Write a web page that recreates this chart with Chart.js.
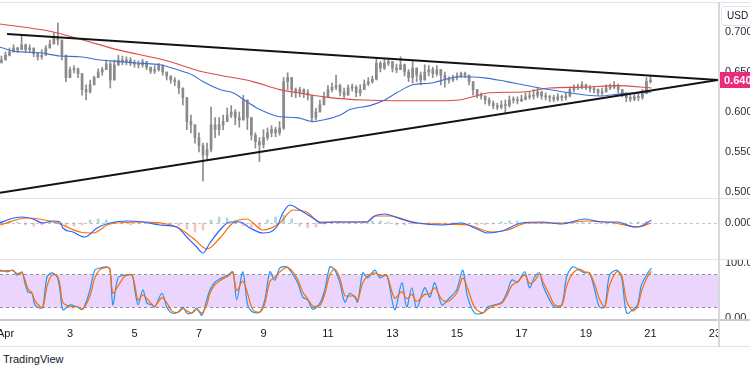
<!DOCTYPE html>
<html>
<head>
<meta charset="utf-8">
<script src="https://cdn.jsdelivr.net/npm/chart.js@4.4.0/dist/chart.umd.min.js"></script>
<style>
  body { margin: 0; background: #fff; width: 750px; height: 375px; overflow: hidden; position: relative; }
  canvas { position: absolute; left: 0; }
  .ln { position: absolute; background: #e0e3eb; z-index: 2; }
  #brand { position: absolute; left: 3px; top: 353px; font: 11px "Liberation Sans", sans-serif; color: #131722; }
</style>
</head>
<body>
<canvas id="price" width="750" height="198" style="top:0"></canvas>
<canvas id="macd" width="750" height="61" style="top:198px"></canvas>
<canvas id="stoch" width="750" height="87" style="top:259px"></canvas>

<div class="ln" style="left:0;top:2px;width:750px;height:1px"></div>
<div class="ln" style="left:0;top:198px;width:750px;height:1px"></div>
<div class="ln" style="left:0;top:259px;width:750px;height:1px"></div>
<div class="ln" style="left:0;top:319px;width:750px;height:2px;background:#c8cad0"></div>
<div class="ln" style="left:0;top:346px;width:750px;height:1px"></div>
<div class="ln" style="left:718px;top:2px;width:2px;height:345px;background:#d6d8dd"></div>
<div id="brand">TradingView</div>

<script>
// time axis in days of April, 3-hour candles
const dayMin = 0.83;
const dayMax = 23.094;
const candleStart = 0.875;
const candleStep = 0.125;
const firstOpen = 0.662;

const closes = [0.665,0.671,0.675,0.680,0.678,0.684,0.678,0.680,0.673,0.669,
  0.671,0.680,0.685,0.693,0.690,0.671,0.643,0.653,0.654,0.648,
  0.628,0.625,0.634,0.643,0.650,0.653,0.660,0.640,0.659,0.665,
  0.663,0.665,0.661,0.660,0.659,0.663,0.656,0.651,0.653,0.658,
  0.650,0.645,0.640,0.638,0.630,0.618,0.588,0.584,0.568,0.558,
  0.546,0.553,0.584,0.578,0.584,0.588,0.596,0.600,0.593,0.590,
  0.615,0.593,0.571,0.563,0.559,0.568,0.574,0.578,0.574,0.580,
  0.638,0.643,0.628,0.624,0.628,0.624,0.621,0.593,0.600,0.609,
  0.619,0.628,0.631,0.633,0.625,0.621,0.630,0.631,0.624,0.628,
  0.635,0.638,0.641,0.661,0.655,0.661,0.663,0.655,0.653,0.659,
  0.650,0.643,0.655,0.646,0.640,0.650,0.653,0.648,0.653,0.646,
  0.640,0.640,0.643,0.645,0.648,0.646,0.638,0.628,0.621,0.620,
  0.615,0.611,0.608,0.606,0.609,0.608,0.615,0.615,0.614,0.616,
  0.619,0.620,0.621,0.625,0.620,0.619,0.618,0.616,0.619,0.618,
  0.620,0.628,0.630,0.631,0.634,0.631,0.629,0.628,0.624,0.625,
  0.630,0.631,0.633,0.628,0.623,0.618,0.616,0.619,0.618,0.623,
  0.638,0.640];

const highs = [0.670,0.675,0.680,0.684,0.681,0.696,0.685,0.684,0.678,0.674,
  0.678,0.683,0.690,0.699,0.711,0.684,0.668,0.656,0.658,0.655,
  0.645,0.634,0.640,0.645,0.654,0.656,0.665,0.663,0.665,0.671,
  0.670,0.669,0.668,0.665,0.664,0.666,0.661,0.656,0.658,0.661,
  0.659,0.650,0.645,0.643,0.640,0.630,0.615,0.596,0.584,0.574,
  0.561,0.561,0.606,0.593,0.593,0.596,0.605,0.608,0.603,0.600,
  0.621,0.615,0.593,0.574,0.568,0.578,0.580,0.583,0.581,0.588,
  0.643,0.649,0.643,0.630,0.631,0.629,0.628,0.621,0.605,0.615,
  0.625,0.633,0.636,0.646,0.635,0.630,0.634,0.635,0.633,0.634,
  0.640,0.643,0.645,0.668,0.663,0.666,0.666,0.663,0.660,0.669,
  0.660,0.653,0.663,0.655,0.650,0.659,0.658,0.656,0.658,0.653,
  0.650,0.644,0.646,0.649,0.650,0.650,0.645,0.636,0.628,0.624,
  0.620,0.618,0.614,0.611,0.614,0.615,0.620,0.619,0.619,0.621,
  0.624,0.625,0.628,0.631,0.626,0.624,0.621,0.621,0.623,0.621,
  0.624,0.631,0.634,0.635,0.638,0.635,0.633,0.631,0.629,0.630,
  0.634,0.635,0.638,0.635,0.628,0.624,0.621,0.623,0.623,0.628,
  0.643,0.645];

const lows = [0.661,0.665,0.670,0.675,0.674,0.678,0.674,0.674,0.669,0.665,
  0.666,0.674,0.680,0.686,0.684,0.665,0.638,0.645,0.649,0.643,
  0.621,0.615,0.624,0.635,0.643,0.646,0.653,0.630,0.640,0.658,
  0.659,0.659,0.658,0.656,0.655,0.656,0.653,0.648,0.648,0.651,
  0.646,0.640,0.636,0.633,0.623,0.609,0.578,0.574,0.561,0.550,
  0.514,0.540,0.550,0.568,0.571,0.578,0.588,0.593,0.584,0.581,
  0.596,0.578,0.565,0.555,0.538,0.555,0.565,0.569,0.569,0.571,
  0.578,0.628,0.619,0.618,0.619,0.618,0.615,0.588,0.590,0.600,
  0.611,0.618,0.625,0.628,0.620,0.618,0.623,0.626,0.619,0.620,
  0.628,0.633,0.636,0.640,0.650,0.653,0.658,0.650,0.649,0.653,
  0.645,0.638,0.636,0.638,0.634,0.640,0.645,0.643,0.645,0.634,
  0.631,0.636,0.638,0.640,0.643,0.643,0.634,0.621,0.618,0.616,
  0.610,0.608,0.604,0.603,0.604,0.599,0.606,0.611,0.610,0.613,
  0.615,0.616,0.616,0.618,0.616,0.615,0.613,0.613,0.614,0.614,
  0.615,0.619,0.625,0.628,0.629,0.628,0.625,0.624,0.621,0.621,
  0.625,0.628,0.629,0.624,0.619,0.613,0.613,0.614,0.614,0.616,
  0.623,0.636];

// moving averages
const blueDays = [0.83,1.29,2.07,2.69,3.31,3.93,4.55,5.17,5.79,6.31,6.81,7.12,7.65,8.05,8.48,8.89,9.51,10.03,10.53,10.84,
  11.37,11.68,12.30,12.76,13.13,13.63,14.15,15.08,15.80,16.54,17.04,17.56,18.49,19.42,20.13,20.75,21.03];
const blueMA = [0.681,0.676,0.674,0.670,0.669,0.665,0.663,0.661,0.659,0.653,0.646,0.638,0.628,0.624,0.613,0.603,0.594,0.593,0.588,0.590,
  0.596,0.603,0.608,0.615,0.624,0.634,0.636,0.644,0.643,0.638,0.634,0.630,0.624,0.620,0.623,0.624,0.625];
const redDays = [0.83,2.38,3.40,4.46,6.00,7.03,7.65,8.67,9.51,10.22,11.06,12.08,13.13,14.46,15.08,15.49,16.01,17.04,17.87,18.90,19.95,21.03];
const redMA = [0.710,0.701,0.690,0.678,0.664,0.651,0.646,0.638,0.628,0.623,0.618,0.615,0.614,0.614,0.615,0.619,0.624,0.625,0.630,0.631,0.633,0.630];

// triangle trendlines [start, apex]
const triUpperDays = [1.05, 23.094];
const triUpperVals = [0.6975, 0.640];
const triLowerDays = [0.83, 23.094];
const triLowerVals = [0.499, 0.640];

const priceTicks = [0.5, 0.55, 0.6, 0.65, 0.7];

// MACD
const macdDays = [0.83,1.14,1.51,1.85,2.16,2.47,2.69,2.78,3.09,3.46,3.84,4.24,4.77,5.26,5.79,6.31,6.62,6.93,7.12,7.34,
  7.65,7.96,8.27,8.58,8.98,9.41,9.60,9.82,10.13,10.53,10.81,11.15,11.77,12.20,12.45,12.76,13.16,13.78,14.53,15.15,
  15.55,15.95,16.39,17.01,17.63,18.25,18.96,19.49,19.98,20.51,20.72,21.03];
const macdVals = [0,0.002,0.003,0.002,0,0.001,0.0005,-0.0025,-0.0045,-0.007,-0.0025,0,0.001,0.0005,-0.001,-0.002,-0.007,-0.012,-0.015,-0.010,
  -0.0035,0.0005,0.0005,-0.0025,-0.005,-0.002,0.005,0.009,0.0065,0.0025,0,0.0005,0.0005,0.0005,0.0035,0.0045,0.0025,0,-0.001,0,
  -0.0025,-0.005,-0.004,0,0.0005,-0.0005,0.002,0.0005,0.0005,-0.002,-0.0015,0.0015];
const signalDays = [0.83,1.67,2.60,3.31,3.71,4.24,5.17,6.31,6.81,7.25,7.65,8.05,8.48,8.98,9.51,9.91,10.34,10.75,11.46,12.20,
  12.45,12.98,13.69,14.53,15.33,16.08,16.57,17.19,18.25,19.05,19.89,20.60,21.03];
const signalVals = [-0.001,0.0025,0,-0.0045,-0.005,-0.0005,0.0005,-0.002,-0.0075,-0.013,-0.0075,0,0.002,-0.0035,0,0.0065,0.0055,0.0005,0.0005,0.0005,
  0.0035,0.0035,0,-0.0005,-0.001,-0.0045,-0.0035,0,0,0.001,0,-0.002,0];
const histStart = 0.875;
const histStep = 0.25;
const histVals = [0.001,0.001,0.0005,-0.001,-0.0015,-0.001,0.0005,0.0005,-0.0015,-0.0015,
  -0.001,0.0015,0.002,0.0015,0.0005,-0.0005,-0.001,-0.0005,0.00025,-0.0005,
  -0.001,-0.001,-0.0015,-0.003,-0.0045,-0.0035,0.0015,0.003,0.0025,0.0015,
  -0.0015,-0.0025,-0.002,0.0015,0.003,0.004,0.002,-0.0015,-0.0025,-0.002,
  -0.0005,0.0005,0.00025,-0.00025,0.00025,0.0005,0.001,0.001,0.0005,-0.001,
  -0.001,-0.0005,-0.0005,0.00025,-0.00025,-0.0005,0.00025,0.00025,-0.0005,-0.001,
  -0.001,-0.0005,0.0005,0.001,0.001,0.0005,0.00025,0.00025,-0.00025,0.00025,
  0.0005,0.00075,0.0005,0.00025,-0.00025,-0.0005,-0.0005,-0.0005,0.00025,0.0005,
  0.00075];

// Stoch RSI
const stochDays = [0.83,1.05,1.23,1.36,1.51,1.60,1.70,1.82,1.91,2.07,2.16,2.29,2.44,2.60,2.69,2.78,3.00,3.22,3.40,3.62,
  3.77,3.93,4.15,4.24,4.33,4.49,4.70,4.92,5.01,5.11,5.26,5.39,5.54,5.63,5.85,6.00,6.16,6.35,6.50,6.62,
  6.78,6.93,7.09,7.24,7.34,7.49,7.71,7.90,8.05,8.17,8.36,8.51,8.67,8.89,9.04,9.20,9.35,9.51,9.72,9.88,
  10.06,10.22,10.37,10.53,10.75,10.90,11.06,11.21,11.37,11.52,11.68,11.83,11.92,12.08,12.23,12.45,
  12.61,12.82,13.07,13.29,13.44,13.60,13.75,14.00,14.16,14.31,14.53,14.71,14.99,15.18,15.33,15.55,15.80,15.95,16.17,16.39,
  16.54,16.70,16.88,17.10,17.25,17.41,17.56,17.66,17.87,18.03,18.25,18.40,18.59,18.80,18.96,19.11,19.27,19.42,19.58,19.73,
  19.95,20.10,20.26,20.45,20.60,20.72,20.88,21.03];
const stochK = [87,84,87,78,84,64,47,45,24,18,20,75,82,75,51,15,24,20,16,51,
  87,91,93,87,24,73,78,78,51,24,51,27,24,20,45,20,9,11,20,9,
  9,18,5,33,51,65,73,78,84,33,84,24,11,11,33,84,69,91,93,82,
  64,38,33,16,27,51,93,87,64,29,45,38,29,82,73,87,
  73,78,15,64,20,55,18,55,38,64,24,33,51,87,38,9,9,20,24,29,
  45,69,65,84,55,75,82,60,33,20,24,75,93,87,82,82,51,20,20,78,
  87,75,9,15,24,60,78,91];
const stochD = [85,86,86,81,82,70,53,46,32,21,19,58,78,77,60,28,21,21,17,40,
  73,88,92,89,45,58,76,78,60,33,42,35,25,21,37,28,13,10,17,13,
  9,15,9,24,45,60,70,76,82,50,67,44,15,11,26,67,74,84,92,86,
  70,47,35,22,23,43,79,89,72,41,40,40,32,64,76,82,
  77,77,36,48,35,43,30,43,44,55,34,30,45,73,54,19,9,16,23,27,
  40,59,66,78,63,68,80,67,42,24,23,58,81,89,84,82,61,34,20,59,
  84,79,31,13,21,48,72,85];
const stochBand = [20, 80];

const xTickDays = [1,3,5,7,9,11,13,15,17,19,21,23];
const xTickLabels = ['Apr','3','5','7','9','11','13','15','17','19','21','23'];

Chart.defaults.font.family = '"Liberation Sans", sans-serif';
Chart.defaults.font.size = 11;
Chart.defaults.color = '#2a2e39';
Chart.defaults.animation = false;

const pts = (xs, ys) => xs.map((x, i) => ({ x: x, y: ys[i] }));
const noPad = s => { s.paddingTop = 0; s.paddingBottom = 0; s.paddingLeft = 0; s.paddingRight = 0; };
const rightAxis = (min, max, ticks, fmt) => ({
  position: 'right', min: min, max: max,
  grid: { display: false, drawTicks: false }, border: { display: false },
  ticks: { padding: 7, callback: fmt },
  afterBuildTicks: s => { s.ticks = ticks.map(v => ({ value: v })); },
  afterFit: s => { s.width = 32; noPad(s); }
});
const hiddenX = {
  type: 'linear', min: dayMin, max: dayMax, display: false, offset: false,
  afterFit: noPad
};
const baseOpts = {
  responsive: false, devicePixelRatio: 1,
  layout: { padding: 0 },
  plugins: { legend: { display: false }, tooltip: { enabled: false } }
};

// candles
const opens = closes.map((c, i) => i ? closes[i - 1] : firstOpen);
const candleDays = closes.map((c, i) => candleStart + i * candleStep);
const wicks = closes.map((c, i) => ({ x: candleDays[i], y: [Math.min(lows[i], opens[i], c), Math.max(highs[i], opens[i], c)] }));
const bodies = closes.map((c, i) => ({ x: candleDays[i], y: [opens[i], c] }));

const lastLabel = {
  id: 'lastLabel',
  afterDraw(chart) {
    const ctx = chart.ctx, last = closes[closes.length - 1];
    const y = chart.scales.y.getPixelForValue(last);
    const left = chart.chartArea.right;
    ctx.save();
    ctx.fillStyle = '#ec2a7b';
    ctx.fillRect(left, y - 8, chart.width - left, 16);
    ctx.fillStyle = '#fff';
    ctx.font = 'bold 11px "Liberation Sans", sans-serif';
    ctx.textBaseline = 'middle';
    ctx.fillText(last.toFixed(3), left + 6, y + 0.5);
    // currency box
    ctx.fillStyle = '#fff';
    ctx.strokeStyle = '#e0e3eb';
    ctx.beginPath();
    ctx.roundRect(left + 3.5, 6.5, 40, 19, 3);
    ctx.fill(); ctx.stroke();
    ctx.fillStyle = '#131722';
    ctx.font = '10px "Liberation Sans", sans-serif';
    ctx.fillText('USD', left + 9, 16);
    ctx.restore();
  }
};

new Chart(document.getElementById('price'), {
  type: 'bar',
  data: {
    datasets: [
      { type: 'line', data: pts(triUpperDays, triUpperVals), borderColor: '#131313', borderWidth: 2, pointRadius: 0, order: 0 },
      { type: 'line', data: pts(triLowerDays, triLowerVals), borderColor: '#131313', borderWidth: 2, pointRadius: 0, order: 0 },
      { type: 'line', data: pts(blueDays, blueMA), borderColor: '#3d6fd6', borderWidth: 1.1, pointRadius: 0, cubicInterpolationMode: 'monotone', order: 1 },
      { type: 'line', data: pts(redDays, redMA), borderColor: '#de4a4a', borderWidth: 1.1, pointRadius: 0, cubicInterpolationMode: 'monotone', order: 1 },
      { data: wicks, backgroundColor: '#8c8c8c', barThickness: 1, grouped: false, order: 2 },
      { data: bodies, backgroundColor: '#858585', barThickness: 2, minBarLength: 1, grouped: false, order: 2 }
    ]
  },
  options: Object.assign({}, baseOpts, {
    scales: {
      x: hiddenX,
      y: rightAxis(0.4925, 0.74, priceTicks, v => v.toFixed(3))
    }
  }),
  plugins: [lastLabel]
});

const zeroLine = {
  id: 'zeroLine',
  beforeDatasetsDraw(chart) {
    const ctx = chart.ctx, a = chart.chartArea, y = Math.round(chart.scales.y.getPixelForValue(0)) + 0.5;
    ctx.save();
    ctx.strokeStyle = '#c3c6ce';
    ctx.setLineDash([3, 3]);
    ctx.beginPath(); ctx.moveTo(a.left, y); ctx.lineTo(a.right, y); ctx.stroke();
    ctx.restore();
  }
};

new Chart(document.getElementById('macd'), {
  type: 'bar',
  data: {
    datasets: [
      { type: 'line', data: pts(macdDays, macdVals), borderColor: '#2962ff', borderWidth: 1.2, pointRadius: 0, cubicInterpolationMode: 'monotone', order: 0 },
      { type: 'line', data: pts(signalDays, signalVals), borderColor: '#ff6d00', borderWidth: 1.2, pointRadius: 0, cubicInterpolationMode: 'monotone', order: 0 },
      { data: histVals.map((v, i) => ({ x: histStart + i * histStep, y: v })),
        backgroundColor: histVals.map(v => v >= 0 ? 'rgba(38,166,154,0.4)' : 'rgba(239,83,80,0.35)'),
        barThickness: 2, grouped: false, order: 1 }
    ]
  },
  options: Object.assign({}, baseOpts, {
    scales: {
      x: hiddenX,
      y: rightAxis(-0.018, 0.0125, [0], v => v.toFixed(3))
    }
  }),
  plugins: [zeroLine]
});

const band = {
  id: 'band',
  beforeDatasetsDraw(chart) {
    const ctx = chart.ctx, a = chart.chartArea, ys = chart.scales.y;
    const yHi = Math.round(ys.getPixelForValue(stochBand[1])) + 0.5;
    const yLo = Math.round(ys.getPixelForValue(stochBand[0])) + 0.5;
    ctx.save();
    ctx.fillStyle = 'rgb(235,213,252)';
    ctx.fillRect(a.left, yHi, a.right - a.left, yLo - yHi);
    ctx.strokeStyle = '#8f9099';
    ctx.setLineDash([3, 3]);
    [yHi, yLo].forEach(y => { ctx.beginPath(); ctx.moveTo(a.left, y); ctx.lineTo(a.right, y); ctx.stroke(); });
    ctx.restore();
  },
  afterDraw(chart) {
    const ctx = chart.ctx, a = chart.chartArea;
    ctx.save();
    ctx.fillStyle = '#fff';
    ctx.fillRect(a.right + 1, a.bottom + 2, chart.width - a.right, chart.height - a.bottom);
    ctx.restore();
  }
};

new Chart(document.getElementById('stoch'), {
  type: 'line',
  data: {
    datasets: [
      { data: pts(stochDays, stochD), borderColor: '#ff6d00', borderWidth: 1.2, pointRadius: 0, tension: 0.3 },
      { data: pts(stochDays, stochK), borderColor: '#2196f3', borderWidth: 1.2, pointRadius: 0, tension: 0.3 }
    ]
  },
  options: Object.assign({}, baseOpts, {
    scales: {
      x: {
        type: 'linear', min: dayMin, max: dayMax, offset: false,
        grid: { display: false, drawTicks: false }, border: { display: false },
        ticks: { padding: 7, autoSkip: false, maxRotation: 0, color: '#131722',
          callback: v => xTickLabels[xTickDays.indexOf(v)] },
        afterBuildTicks: s => { s.ticks = xTickDays.map(v => ({ value: v })); },
        afterFit: s => { s.height = 26; noPad(s); }
      },
      y: rightAxis(-3.6, 107.3, [0, 100], v => v.toFixed(2))
    }
  }),
  plugins: [band]
});
</script>
</body>
</html>
